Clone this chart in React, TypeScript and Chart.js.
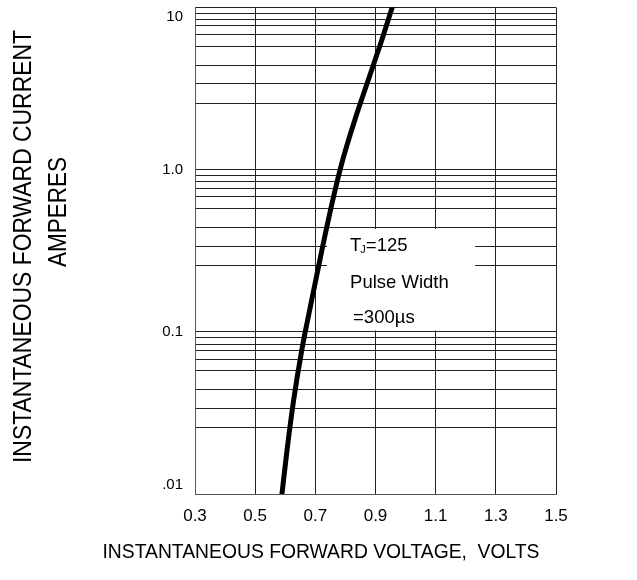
import React, { useEffect, useRef } from 'react';
import { Chart, registerables } from 'chart.js';

Chart.register(...registerables);

// Curve
const voltage = [0.589, 0.606, 0.628, 0.655, 0.688, 0.722, 0.758, 0.791, 0.831, 0.876, 0.921, 0.956];
const current = [0.01, 0.0187, 0.038, 0.0773, 0.157, 0.320, 0.650, 1.148, 2.02, 3.57, 6.31, 10.07];

// Axes
const xTickValues = [0.3, 0.5, 0.7, 0.9, 1.1, 1.3, 1.5];
const yDecades = [0.01, 0.1, 1, 10];
const yDecadeLabels: (string | string[])[] = [['.01', ''], '0.1', '1.0', ['', '10']];
const yGridMultipliers = [2.57, 3.38, 4.42, 5.78, 6.79, 7.69, 8.4, 9.24];

// Texts
const yTitle = ['INSTANTANEOUS FORWARD CURRENT', 'AMPERES'];
const xTitle = 'INSTANTANEOUS FORWARD VOLTAGE,  VOLTS';
const noteT = 'T';
const noteSub = 'J';
const noteTemp = '=125';
const notePulse = 'Pulse Width';
const noteWidth = '=300µs';
const noteBoxX = [0.739, 1.231];
const noteBoxY = [0.102, 0.43];

const FONT = "'Liberation Sans', Arial, sans-serif";

export default function App() {
  const ref = useRef<HTMLCanvasElement>(null);

  useEffect(() => {
    const canvas = ref.current!;
    const gridValues: number[] = [];
    yDecades.forEach((d, i) => {
      gridValues.push(d);
      if (i < yDecades.length - 1) yGridMultipliers.forEach((m) => gridValues.push(d * m));
    });
    const labelFor = (v: number) => {
      const i = yDecades.findIndex((d) => Math.abs(d - v) < d * 1e-6);
      return i >= 0 ? yDecadeLabels[i] : '';
    };

    const overlay = {
      id: 'overlay',
      beforeDatasetsDraw(chart: any) {
        const { ctx, scales } = chart;
        const x = scales.x, y = scales.y;
        const l = x.getPixelForValue(noteBoxX[0]);
        const r = x.getPixelForValue(noteBoxX[1]);
        const t = y.getPixelForValue(noteBoxY[1]);
        const b = y.getPixelForValue(noteBoxY[0]);
        ctx.save();
        ctx.fillStyle = '#fff';
        ctx.fillRect(l, t, r - l, b - t);
        ctx.fillStyle = '#000';
        ctx.textBaseline = 'middle';
        ctx.textAlign = 'left';
        ctx.font = `18.5px ${FONT}`;
        ctx.fillText(noteT, l + 23, t + 17);
        const tw = ctx.measureText(noteT).width;
        ctx.font = `11px ${FONT}`;
        ctx.fillText(noteSub, l + 23 + tw - 1, t + 21);
        const sw = ctx.measureText(noteSub).width;
        ctx.font = `18.5px ${FONT}`;
        ctx.fillText(noteTemp, l + 23 + tw + sw - 1, t + 17);
        ctx.fillText(notePulse, l + 23, t + 54);
        ctx.fillText(noteWidth, l + 26, t + 89);
        ctx.restore();
      },
      afterDraw(chart: any) {
        const { ctx } = chart;
        ctx.save();
        ctx.fillStyle = '#000';
        ctx.textAlign = 'center';
        ctx.textBaseline = 'middle';
        ctx.font = `25px ${FONT}`;
        ctx.save();
        ctx.translate(24, 246.5);
        ctx.rotate(-Math.PI / 2);
        ctx.fillText(yTitle[0], 0, 0, 433);
        ctx.restore();
        ctx.save();
        ctx.translate(59, 212);
        ctx.rotate(-Math.PI / 2);
        ctx.fillText(yTitle[1], 0, 0, 110);
        ctx.restore();
        ctx.font = `21px ${FONT}`;
        ctx.fillText(xTitle, 321, 552.5, 437);
        ctx.restore();
      },
    };

    const chart = new Chart(canvas, {
      type: 'scatter',
      data: {
        datasets: [
          {
            data: voltage.map((v, i) => ({ x: v, y: current[i] })),
            showLine: true,
            borderColor: '#000',
            borderWidth: 5,
            borderCapStyle: 'round',
            borderJoinStyle: 'round',
            pointRadius: 0,
            cubicInterpolationMode: 'monotone',
          } as any,
        ],
      },
      options: {
        animation: false,
        responsive: false,
        events: [],
        layout: { padding: { top: 7.5, right: 81, left: 0, bottom: 0 } },
        plugins: { legend: { display: false }, tooltip: { enabled: false } },
        scales: {
          x: {
            type: 'linear',
            min: 0.3,
            max: 1.5,
            afterBuildTicks: (s: any) => {
              s.ticks = xTickValues.map((v) => ({ value: v }));
            },
            afterFit: (s: any) => {
              s.height = 86;
              s.paddingLeft = 0;
              s.paddingRight = 0;
            },
            ticks: {
              color: '#000',
              font: { family: FONT, size: 17, lineHeight: 1 },
              padding: 14,
              maxRotation: 0,
              autoSkip: false,
              callback: (v: any) => Number(v).toFixed(1),
            },
            grid: { color: '#222', lineWidth: 1, drawTicks: false },
            border: { color: '#555', width: 1 },
          },
          y: {
            type: 'logarithmic',
            min: 0.01,
            max: 10,
            afterBuildTicks: (s: any) => {
              s.ticks = gridValues.map((v) => ({ value: v }));
            },
            afterFit: (s: any) => {
              s.width = 195;
              s.paddingTop = 0;
              s.paddingBottom = 0;
            },
            ticks: {
              color: '#000',
              font: { family: FONT, size: 15, lineHeight: 1.2 },
              padding: 12,
              autoSkip: false,
              callback: (v: any) => labelFor(Number(v)),
            },
            grid: { color: '#222', lineWidth: 1, drawTicks: false },
            border: { color: '#555', width: 1 },
          },
        },
      } as any,
      plugins: [overlay],
    });
    return () => chart.destroy();
  }, []);

  return (
    <canvas
      ref={ref}
      width={637}
      height={580}
      style={{ position: 'absolute', left: 0, top: 0, width: 637, height: 580, background: '#fff' }}
    />
  );
}
